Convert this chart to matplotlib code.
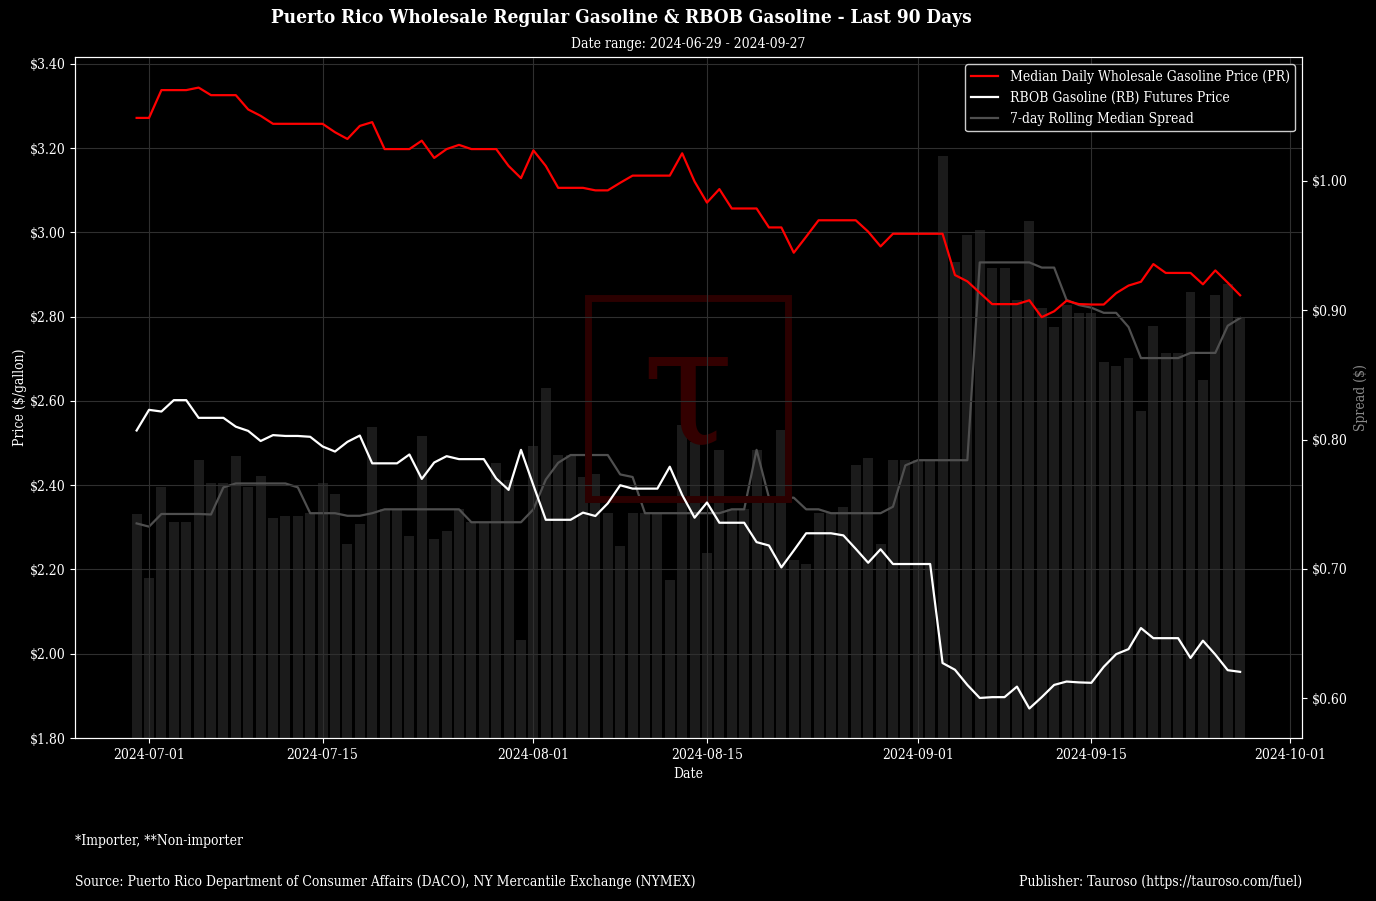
import numpy as np
import pandas as pd
import matplotlib
matplotlib.use("Agg")
import matplotlib.pyplot as plt
import matplotlib.dates as mdates
from matplotlib.patches import Rectangle
from matplotlib.ticker import FuncFormatter, MultipleLocator
from matplotlib import font_manager as fm

# ---------------- data ----------------
start_date = "2024-06-30"

pr_price = [
    3.272, 3.272, 3.338, 3.338, 3.338, 3.344, 3.326, 3.326, 3.326, 3.292,
    3.277, 3.258, 3.258, 3.258, 3.258, 3.258, 3.238, 3.222, 3.253, 3.262,
    3.198, 3.198, 3.198, 3.218, 3.177, 3.198, 3.208, 3.198, 3.198, 3.198,
    3.158, 3.129, 3.195, 3.158, 3.106, 3.106, 3.106, 3.100, 3.100, 3.118,
    3.135, 3.135, 3.135, 3.135, 3.188, 3.121, 3.071, 3.103, 3.057, 3.057,
    3.057, 3.012, 3.012, 2.952, 2.990, 3.029, 3.029, 3.029, 3.029, 3.002,
    2.967, 2.997, 2.997, 2.997, 2.997, 2.997, 2.899, 2.884, 2.857, 2.830,
    2.830, 2.830, 2.839, 2.799, 2.813, 2.838, 2.830, 2.829, 2.829, 2.856,
    2.874, 2.883, 2.925, 2.904, 2.904, 2.904, 2.877, 2.910, 2.881, 2.851,
]

rbob_price = [
    2.530, 2.579, 2.575, 2.602, 2.602, 2.560, 2.560, 2.560, 2.539, 2.529,
    2.505, 2.519, 2.517, 2.517, 2.515, 2.492, 2.480, 2.503, 2.518, 2.452,
    2.452, 2.452, 2.473, 2.415, 2.454, 2.469, 2.462, 2.462, 2.462, 2.416,
    2.389, 2.484, 2.400, 2.318, 2.318, 2.318, 2.335, 2.327, 2.357, 2.400,
    2.392, 2.392, 2.392, 2.444, 2.377, 2.323, 2.359, 2.311, 2.311, 2.311,
    2.265, 2.257, 2.205, 2.245, 2.286, 2.286, 2.286, 2.281, 2.249, 2.216,
    2.248, 2.213, 2.213, 2.213, 2.213, 1.978, 1.962, 1.926, 1.895, 1.897,
    1.897, 1.922, 1.870, 1.897, 1.926, 1.934, 1.932, 1.931, 1.969, 1.999,
    2.011, 2.061, 2.037, 2.037, 2.037, 1.990, 2.031, 1.998, 1.961, 1.957,
]

# first values of the 7-day rolling median (window reaches before the shown period)
rolling_head = [0.7351, 0.7326, 0.7424, 0.7424, 0.7424, 0.7424]

title_text = "Puerto Rico Wholesale Regular Gasoline & RBOB Gasoline - Last 90 Days"
subtitle_text = "Date range: 2024-06-29 - 2024-09-27"
legend_labels = ["Median Daily Wholesale Gasoline Price (PR)",
                 "RBOB Gasoline (RB) Futures Price",
                 "7-day Rolling Median Spread"]
footnote_text = "*Importer, **Non-importer"
source_text = "Source: Puerto Rico Department of Consumer Affairs (DACO), NY Mercantile Exchange (NYMEX)"
publisher_text = "Publisher: Tauroso (https://tauroso.com/fuel)"

# ---------------- derived series ----------------
dates = pd.date_range(start_date, periods=len(pr_price), freq="D")
spread = np.array(pr_price) - np.array(rbob_price)
rolling = pd.Series(spread).rolling(7).median().to_numpy()
rolling[:len(rolling_head)] = rolling_head

# ---------------- font choice ----------------
cond = [f for f in fm.fontManager.ttflist
        if f.name == "DejaVu Serif" and str(f.stretch) in ("condensed", "semi-condensed", "600", "500")]
plt.rcParams["font.family"] = ["DejaVu Serif"]
if cond:
    plt.rcParams["font.stretch"] = "condensed"
    base = 10
else:
    base = 9.0
plt.rcParams["axes.unicode_minus"] = False

fig = plt.figure(figsize=(13.76, 9.01), dpi=100, facecolor="black")
ax = fig.add_axes([75 / 1376, 1 - 738 / 901, (1302 - 75) / 1376, (738 - 57) / 901])
ax2 = ax.twinx()
ax.set_zorder(ax2.get_zorder() + 1)
ax.patch.set_visible(False)
ax2.patch.set_visible(False)

# watermark
wm_col = (0.17, 0.0, 0.0)
fig.patches.append(Rectangle((588 / 1376, 1 - 499 / 901), 200 / 1376, 201 / 901,
                             transform=fig.transFigure, fill=False,
                             edgecolor=wm_col, lw=5, zorder=0))
fig.text(687 / 1376, 1 - 398 / 901, "\u03c4", ha="center", va="center",
         fontsize=120, color=(0.2, 0.0, 0.0), family="DejaVu Serif",
         fontstretch="normal", zorder=0)

ax2.bar(dates, spread, width=0.8, color="#1b1b1b", zorder=1)
l3, = ax2.plot(dates, rolling, color="#4f4f4f", lw=1.6, zorder=2)
l1, = ax.plot(dates, pr_price, color="#ff0000", lw=1.6)
l2, = ax.plot(dates, rbob_price, color="white", lw=1.6)

d0 = dates[0]
ax.set_xlim(d0 - pd.Timedelta(days=4.97), d0 + pd.Timedelta(days=93.99))
ax.set_ylim(1.80, 3.4166)
ax2.set_ylim(0.5691, 1.0959)

ax.yaxis.set_major_locator(MultipleLocator(0.2))
ax.yaxis.set_major_formatter(FuncFormatter(lambda v, p: f"${v:.2f}"))
ax2.yaxis.set_major_locator(MultipleLocator(0.1))
ax2.yaxis.set_major_formatter(FuncFormatter(lambda v, p: f"${v:.2f}"))
ax.xaxis.set_major_locator(mdates.DayLocator(bymonthday=[1, 15]))
ax.xaxis.set_major_formatter(mdates.DateFormatter("%Y-%m-%d"))

ax.grid(True, color="#2f2f2f", lw=0.8)
for a in (ax, ax2):
    for s in a.spines.values():
        s.set_color("white")
        s.set_linewidth(0.8)
    a.tick_params(colors="white", labelsize=base)

ax.set_xlabel("Date", color="white", fontsize=base)
ax.set_ylabel("Price ($/gallon)", color="white", fontsize=base, labelpad=2)
ax2.set_ylabel("Spread ($)", color="#8a8a8a", fontsize=base)

leg = ax.legend([l1, l2, l3], legend_labels, loc="upper right", fontsize=base,
                facecolor="black", edgecolor="#cccccc", labelcolor="white",
                framealpha=1)

fig.text(621 / 1376, 1 - 18 / 901, title_text, ha="center", va="center",
         fontsize=base * 1.36, fontweight="bold", color="white")
fig.text(688 / 1376, 1 - 44 / 901, subtitle_text, ha="center", va="center",
         fontsize=base, color="white")
fig.text(75 / 1376, 1 - 841 / 901, footnote_text, ha="left", va="center",
         fontsize=base, color="white")
fig.text(75 / 1376, 1 - 882 / 901, source_text, ha="left", va="center",
         fontsize=base, color="white")
fig.text(1302 / 1376, 1 - 882 / 901, publisher_text, ha="right", va="center",
         fontsize=base, color="white")

fig.savefig("out.png", dpi=100, facecolor="black")
